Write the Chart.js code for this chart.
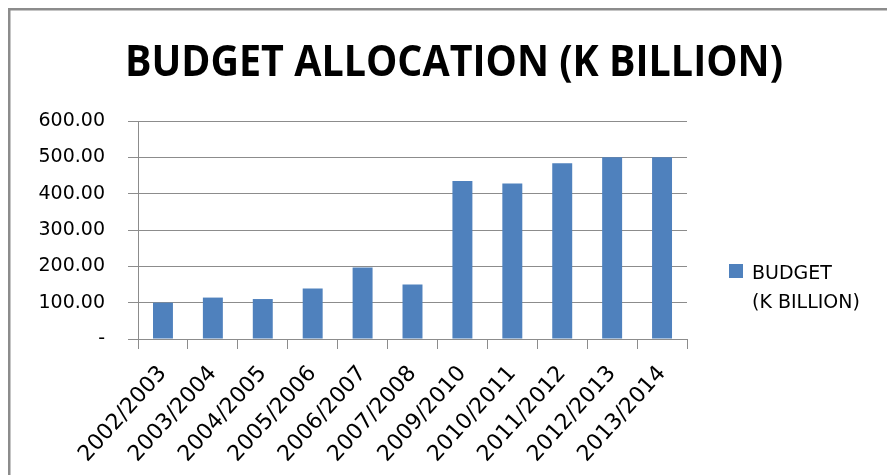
<!DOCTYPE html>
<html>
<head>
<meta charset="utf-8">
<script src="https://cdn.jsdelivr.net/npm/chart.js@4"></script>
<style>
  html, body { margin: 0; padding: 0; background: #fff; }
  #wrap { position: relative; width: 887px; height: 475px; }
</style>
</head>
<body>
<div id="wrap"><canvas id="graf" width="887" height="475"></canvas></div>
<script>
// fiscal years and budget in K billion
const godine = ['2002/2003', '2003/2004', '2004/2005', '2005/2006', '2006/2007', '2007/2008',
                '2009/2010', '2010/2011', '2011/2012', '2012/2013', '2013/2014'];
const budzet = [100, 114, 110, 139, 197, 150, 435, 428, 484, 500, 500];
const yTicks = [0, 100, 200, 300, 400, 500, 600];

const naslov = 'BUDGET ALLOCATION (K BILLION)';
const legendaRedovi = ['BUDGET', '(K BILLION)'];

const siva = '#8c8c8c';
const plava = '#4f81bd';
const font = 'DejaVu Sans';

// frame, title and the two-line legend
const ukrasi = {
    id: 'ukrasi',
    beforeDraw(chart) {
        const ctx = chart.ctx;
        ctx.save();
        ctx.fillStyle = '#fff';
        ctx.fillRect(0, 0, chart.width, chart.height);
        ctx.fillStyle = siva;
        ctx.fillRect(8, 8, chart.width, 2.5);
        ctx.fillRect(8, 8, 2.5, chart.height);
        ctx.restore();
    },
    afterDraw(chart) {
        const ctx = chart.ctx;
        ctx.save();
        // title, squeezed to the width of the plot
        ctx.font = 'bold 43px "Open Sans"';
        ctx.fillStyle = '#000';
        ctx.textAlign = 'left';
        ctx.textBaseline = 'alphabetic';
        const w = ctx.measureText(naslov).width;
        ctx.translate(125, 76);
        ctx.scale(658 / w, 1);
        ctx.fillText(naslov, 0, 0);
        ctx.restore();

        ctx.save();
        ctx.fillStyle = chart.data.datasets[0].backgroundColor;
        ctx.fillRect(729, 264, 14, 14);
        ctx.fillStyle = '#000';
        ctx.font = '19px "' + font + '"';
        ctx.textBaseline = 'alphabetic';
        legendaRedovi.forEach((t, i) => ctx.fillText(t, 752, 279 + i * 29));
        ctx.restore();
    }
};

const ctx = document.getElementById('graf').getContext('2d');
new Chart(ctx, {
    type: 'bar',
    data: {
        labels: godine,
        datasets: [{
            label: legendaRedovi.join(' '),
            data: budzet,
            backgroundColor: plava,
            barPercentage: 0.4,
            categoryPercentage: 1.0
        }]
    },
    options: {
        responsive: false,
        animation: false,
        layout: { padding: { top: 121, right: 200, left: 0, bottom: 0 } },
        plugins: {
            legend: { display: false },
            title: { display: false },
            tooltip: { enabled: false }
        },
        scales: {
            x: {
                grid: {
                    offset: true,
                    drawOnChartArea: false,
                    drawTicks: true,
                    tickLength: 10,
                    color: siva
                },
                border: { color: siva },
                ticks: {
                    autoSkip: false,
                    minRotation: 48,
                    maxRotation: 48,
                    padding: 12,
                    color: '#000',
                    font: { family: font, size: 22 }
                },
                afterFit(scale) { scale.height = 475 - 339; }
            },
            y: {
                min: 0,
                max: 600,
                afterBuildTicks(scale) { scale.ticks = yTicks.map(v => ({ value: v })); },
                grid: { color: siva, tickLength: 10 },
                border: { color: siva },
                ticks: {
                    padding: 23,
                    color: '#000',
                    font: { family: font, size: 19 },
                    callback: v => v === 0 ? '-' : v.toFixed(2)
                },
                afterFit(scale) { scale.width = 138; }
            }
        }
    },
    plugins: [ukrasi]
});
</script>
</body>
</html>
